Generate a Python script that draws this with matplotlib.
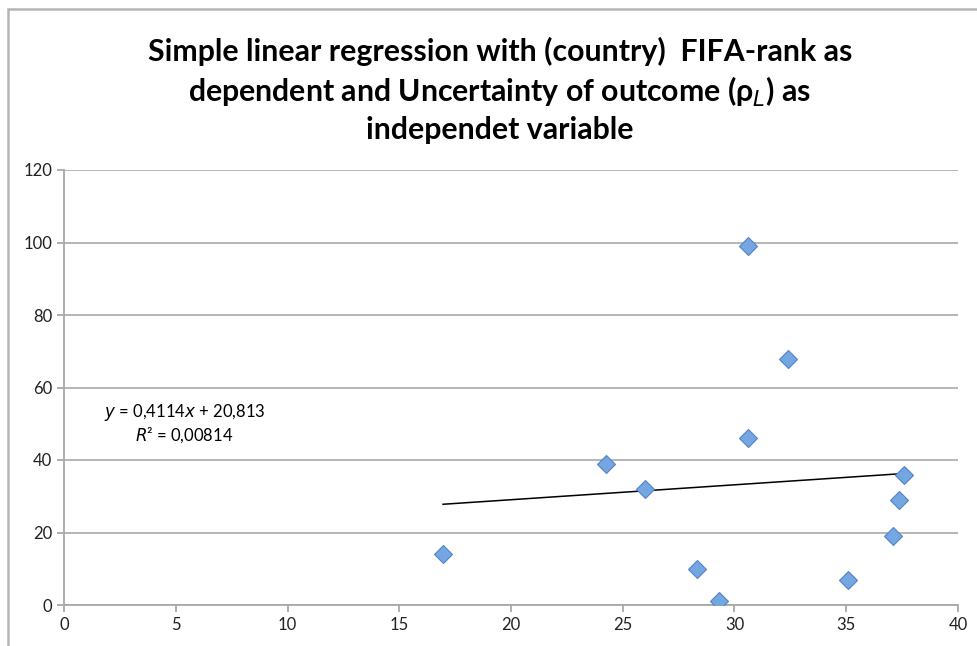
import numpy as np
import matplotlib.pyplot as plt
from matplotlib.patches import Rectangle

# points: uncertainty of outcome (x) vs FIFA-rank (y)
rho_l = np.array([16.96, 24.25, 26.0, 28.3, 29.3, 30.6, 30.6, 32.4, 35.1, 37.1, 37.36, 37.6])
fifa_rank = np.array([14, 39, 32, 10, 1, 99, 46, 68, 7, 19, 29, 36])

# trendline coefficients as printed on the chart
slope = 0.4114
intercept = 20.813
r2 = 0.00814

x_ticks = [0, 5, 10, 15, 20, 25, 30, 35, 40]
y_ticks = [0, 20, 40, 60, 80, 100, 120]

plt.rcParams['font.family'] = ['Lato', 'DejaVu Sans']

fig = plt.figure(figsize=(9.78, 6.46), dpi=100)
ax = fig.add_axes([64 / 978, 41 / 646, 894 / 978, 435 / 646])

# chart border like the Excel chart area
fig.patches.append(Rectangle((8 / 978, -0.1), 1.2, (646 - 9) / 646 + 0.1,
                             transform=fig.transFigure, fill=False,
                             edgecolor='#b5b5b5', linewidth=1.8))

ax.set_xlim(0, 40)
ax.set_ylim(0, 120)
ax.set_xticks(x_ticks)
ax.set_yticks(y_ticks)
ax.grid(axis='y', color='#b0b0b0', linewidth=1.3)
ax.set_axisbelow(True)
for s in ['top', 'right']:
    ax.spines[s].set_visible(False)
for s in ['left', 'bottom']:
    ax.spines[s].set_color('#a8a8a8')
    ax.spines[s].set_linewidth(1.3)
ax.tick_params(colors='#a8a8a8', labelcolor='#222222', labelsize=12,
               length=5, width=1.3, direction='out')

xs = np.array([rho_l.min(), rho_l.max()])
ax.plot(xs, slope * xs + intercept, color='black', linewidth=1.1, zorder=2)

ax.plot(rho_l, fifa_rank, 'D', markersize=9, markerfacecolor='#74a6e2',
        markeredgecolor='#5584c4', markeredgewidth=0.8, zorder=3)

ax.text(5.4, 53.2, '$y$ = 0,4114$x$ + 20,813', ha='center', va='center',
        fontsize=12, color='black')
ax.text(5.4, 46.9, '$R$² = 0,00814', ha='center', va='center',
        fontsize=12, color='black')

fig.text(0.511, 0.86,
         'Simple linear regression with (country)  FIFA-rank as\n'
         'dependent and Uncertainty of outcome (ρ$_L$) as\n'
         'independet variable',
         ha='center', va='center', fontsize=21.8, fontweight='bold',
         linespacing=1.3)

fig.savefig('out.png', dpi=100)
